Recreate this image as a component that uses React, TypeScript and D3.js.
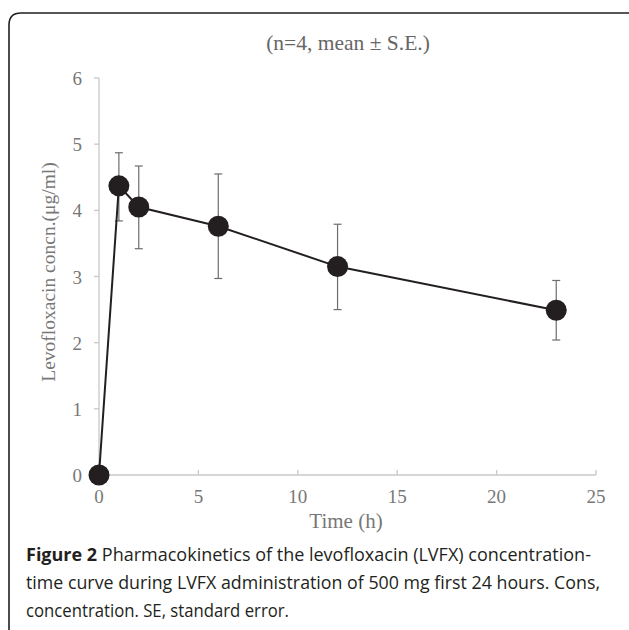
// @ts-nocheck
import React, { useEffect, useRef } from "react";
import { select, scaleLinear, line } from "d3";

// time (h)
const times = [0, 1, 2, 6, 12, 23];
// mean concentration (ug/ml)
const means = [0, 4.37, 4.05, 3.76, 3.15, 2.49];
// standard error bounds
const upper = [0, 4.87, 4.67, 4.55, 3.79, 2.94];
const lower = [0, 3.84, 3.42, 2.97, 2.5, 2.04];

const xTicks = [0, 5, 10, 15, 20, 25];
const yTicks = [0, 1, 2, 3, 4, 5, 6];

const captionLines = [
  "Pharmacokinetics of the levofloxacin (LVFX) concentration-",
  "time curve during LVFX administration of 500 mg first 24 hours. Cons,",
  "concentration. SE, standard error.",
];

export default function App() {
  const ref = useRef(null);

  useEffect(() => {
    const svg = select(ref.current);
    svg.selectAll("*").remove();

    const x = scaleLinear().domain([0, 25]).range([99, 596]);
    const y = scaleLinear().domain([0, 6]).range([475, 78]);
    const serif = "'Liberation Serif', 'Times New Roman', serif";
    const axisColor = "#c8c8c8";
    const textColor = "#777";

    // frame
    svg
      .append("path")
      .attr("d", "M9,640 L9,25 Q9,13 21,13 L640,13")
      .attr("fill", "none")
      .attr("stroke", "#231f20")
      .attr("stroke-width", 1.6);

    // subtitle
    svg
      .append("text")
      .attr("x", 348)
      .attr("y", 50)
      .attr("text-anchor", "middle")
      .attr("font-family", serif)
      .attr("font-size", 21.5)
      .attr("fill", "#666")
      .text("(n=4, mean \u00b1 S.E.)");

    // axes
    const g = svg.append("g");
    g.append("line")
      .attr("x1", x(0)).attr("x2", x(0))
      .attr("y1", y(6)).attr("y2", y(0))
      .attr("stroke", axisColor).attr("stroke-width", 1.3);
    g.append("line")
      .attr("x1", x(0)).attr("x2", x(25))
      .attr("y1", y(0)).attr("y2", y(0))
      .attr("stroke", axisColor).attr("stroke-width", 1.3);

    yTicks.forEach((t) => {
      g.append("line")
        .attr("x1", x(0) - 5).attr("x2", x(0))
        .attr("y1", y(t)).attr("y2", y(t))
        .attr("stroke", axisColor).attr("stroke-width", 1.3);
      g.append("text")
        .attr("x", 82)
        .attr("y", y(t) + 7)
        .attr("text-anchor", "end")
        .attr("font-family", serif)
        .attr("font-size", 19)
        .attr("fill", textColor)
        .text(t);
    });

    xTicks.forEach((t) => {
      g.append("line")
        .attr("x1", x(t)).attr("x2", x(t))
        .attr("y1", y(0) - 5).attr("y2", y(0))
        .attr("stroke", axisColor).attr("stroke-width", 1.3);
      g.append("text")
        .attr("x", x(t))
        .attr("y", 503)
        .attr("text-anchor", "middle")
        .attr("font-family", serif)
        .attr("font-size", 19)
        .attr("fill", textColor)
        .text(t);
    });

    // axis titles
    svg
      .append("text")
      .attr("x", 346)
      .attr("y", 528)
      .attr("text-anchor", "middle")
      .attr("font-family", serif)
      .attr("font-size", 21)
      .attr("fill", textColor)
      .text("Time (h)");
    svg
      .append("text")
      .attr("transform", "translate(55,272) rotate(-90)")
      .attr("text-anchor", "middle")
      .attr("font-family", serif)
      .attr("font-size", 19.5)
      .attr("fill", textColor)
      .text("Levofloxacin concn.(\u03bcg/ml)");

    // error bars
    const eb = svg.append("g").attr("stroke", "#6d6d6d").attr("stroke-width", 1.2);
    times.forEach((t, i) => {
      if (upper[i] === lower[i]) return;
      eb.append("line")
        .attr("x1", x(t)).attr("x2", x(t))
        .attr("y1", y(upper[i])).attr("y2", y(lower[i]));
      [upper[i], lower[i]].forEach((v) => {
        eb.append("line")
          .attr("x1", x(t) - 4).attr("x2", x(t) + 4)
          .attr("y1", y(v)).attr("y2", y(v));
      });
    });

    // line
    const pts = times.map((t, i) => [t, means[i]]);
    svg
      .append("path")
      .datum(pts)
      .attr("fill", "none")
      .attr("stroke", "#231f20")
      .attr("stroke-width", 2)
      .attr("d", line().x((d) => x(d[0])).y((d) => y(d[1])));

    // markers
    svg
      .selectAll("circle.pt")
      .data(pts)
      .enter()
      .append("circle")
      .attr("class", "pt")
      .attr("cx", (d) => x(d[0]))
      .attr("cy", (d) => y(d[1]))
      .attr("r", 10.5)
      .attr("fill", "#231f20");

    // caption
    const sans = "'Open Sans', 'Noto Sans', sans-serif";
    const cap = svg
      .append("text")
      .attr("font-family", sans)
      .attr("font-size", 18)
      .attr("fill", "#231f20");
    const first = cap.append("tspan").attr("x", 26).attr("y", 561);
    first.append("tspan").attr("font-weight", "bold").text("Figure 2");
    first.append("tspan").text(" " + captionLines[0]);
    svg
      .append("text")
      .attr("x", 26)
      .attr("y", 589)
      .attr("font-family", sans)
      .attr("font-size", 18)
      .attr("fill", "#231f20")
      .attr("textLength", 574)
      .attr("lengthAdjust", "spacingAndGlyphs")
      .text(captionLines[1]);
    svg
      .append("text")
      .attr("x", 26)
      .attr("y", 617)
      .attr("font-family", sans)
      .attr("font-size", 18)
      .attr("fill", "#231f20")
      .attr("textLength", 263)
      .attr("lengthAdjust", "spacingAndGlyphs")
      .text(captionLines[2]);
  }, []);

  return (
    <svg
      ref={ref}
      width={629}
      height={630}
      style={{ position: "absolute", left: 0, top: 0, background: "#fff" }}
    />
  );
}
